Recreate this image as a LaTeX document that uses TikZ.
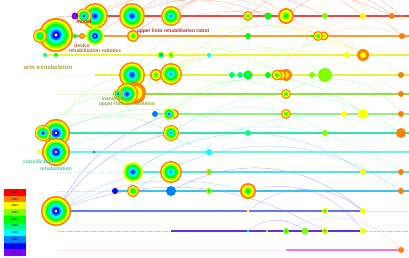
\documentclass[tikz,border=0pt]{standalone}
\usepackage{fontspec}
\setsansfont{Liberation Sans}
\usetikzlibrary{calc,backgrounds}

% year colours (2016 ... 2025)
\definecolor{yr25}{HTML}{FF0000}
\definecolor{ring0}{HTML}{FF8000}
\definecolor{ring1}{HTML}{FFFF00}
\definecolor{ring2}{HTML}{80FF00}
\definecolor{ring3}{HTML}{00FF00}
\definecolor{ring4}{HTML}{00FF80}
\definecolor{ring5}{HTML}{00FFFF}
\definecolor{ring6}{HTML}{0080FF}
\definecolor{ring7}{HTML}{0000FF}
\definecolor{ring8}{HTML}{8000FF}
% timeline colours
\definecolor{ln0}{HTML}{F04848}
\definecolor{ln1}{HTML}{F8A030}
\definecolor{ln2}{HTML}{F0F040}
\definecolor{ln3}{HTML}{E8F040}
\definecolor{ln4}{HTML}{90E040}
\definecolor{ln5}{HTML}{90F080}
\definecolor{ln6}{HTML}{30E8A0}
\definecolor{ln7}{HTML}{70F0F0}
\definecolor{ln8}{HTML}{50E0F0}
\definecolor{ln9}{HTML}{40C0F0}
\definecolor{ln10}{HTML}{6078F0}
\definecolor{ln11}{HTML}{6030D8}
\definecolor{ln12}{HTML}{E080F0}
% label colours
\definecolor{lblred}{HTML}{A83232}
\definecolor{lblbrown}{HTML}{B0642C}
\definecolor{lblolive}{HTML}{B4A038}
\definecolor{lblgreen}{HTML}{8CA83C}
\definecolor{lblteal}{HTML}{4CC0A0}

% ring node: name, position, radius, outer ring, inner ring
\newcommand{\citenode}[5]{%
	\coordinate (#1) at (#2);
	\foreach \k in {#4,...,#5}{%
		\pgfmathsetmacro{\rr}{#3*(#5-\k+1)/(#5-#4+1)}%
		\fill[fill=ring\k] (#1) circle[radius=\rr pt];
	}%
	\ifnum#5=8 \fill[white] (#1) circle[radius={#3*0.1pt}];\fi
}

\begin{document}
\begin{tikzpicture}[x=1pt,y=-1pt]
	\tikzstyle{tline}=[line width=1.3pt];
	\tikzstyle{tdots}=[line width=0.6pt,densely dotted,opacity=0.35];
	\tikzstyle{link}=[line width=0.45pt,opacity=0.3];
	\tikzstyle{lbl}=[font=\sffamily\bfseries\fontsize{5}{5}\selectfont,inner sep=0pt];
	\tikzstyle{yearbox}=[minimum width=22pt,minimum height=6.7pt,inner sep=0pt,
		font=\sffamily\fontsize{3}{3}\selectfont];

	\useasboundingbox (0,0) rectangle (409,257);

	% timelines: y / solid start / solid end / colour
	\foreach \y/\xs/\xe/\col in {16/75/409/ln0, 36/40/409/ln1, 55/45/409/ln2,
		75/95/409/ln3, 94/118/409/ln4, 114/155/409/ln5, 133/43/409/ln6,
		152/56/409/ln7, 172/133/409/ln8, 191/115/409/ln9, 211/56/363/ln10,
		231/171/363/ln11, 250/286/401/ln12}{
		\draw[tdots,draw=\col] (57,\y) -- (409,\y);
		\draw[tline,draw=\col] (\xs,\y) -- (\xe,\y);
	}

	% line 0
	\citenode{c0_3}{95,16}{13}{0}{7}
	\citenode{c0_2}{84,16}{7.5}{0}{7}
	\citenode{c0_1}{75,16}{3.5}{8}{8}
	\citenode{c0_4}{132,16}{13}{0}{7}
	\citenode{c0_5}{171,16}{10}{0}{6}
	\citenode{c0_6}{248,16}{5}{0}{3}
	\citenode{c0_7}{268,16}{3.5}{3}{3}
	\citenode{c0_8}{286,16}{8}{0}{3}
	\citenode{c0_9}{325,16}{3}{2}{2}
	\citenode{c0_10}{363,16}{3}{1}{1}
	\citenode{c0_11}{392,16}{3}{0}{0}
	\citenode{c0_12}{401,16}{1.5}{0}{0}
	% line 1
	\citenode{c1_2}{56,35}{17}{0}{8}
	\citenode{c1_1}{40,36}{7}{0}{5}
	\citenode{c1_3}{75,36}{2}{3}{3}
	\citenode{c1_4}{82,36}{3}{0}{1}
	\citenode{c1_5}{95,36}{9}{1}{8}
	\citenode{c1_6}{133,36}{6}{0}{3}
	\citenode{c1_7}{248,36}{3}{3}{3}
	\citenode{c1_11}{312,36}{1.5}{3}{3}
	\citenode{c1_9}{324,36}{4.5}{0}{2}
	\citenode{c1_8}{318,36}{5}{0}{3}
	\citenode{c1_10}{402,36}{3}{0}{0}
	% line 2
	\citenode{c2_1}{45,55}{2}{4}{4}
	\citenode{c2_2}{56,55}{2}{3}{3}
	\citenode{c2_3}{161,55}{3.5}{1}{7}
	\citenode{c2_4}{171,55}{3.5}{1}{3}
	\citenode{c2_5}{209,55}{2}{5}{5}
	\citenode{c2_6}{347,55}{3}{1}{1}
	\citenode{c2_7}{363,55}{6}{0}{1}
	% line 3
	\citenode{c3_1}{132,75}{13}{0}{7}
	\citenode{c3_2}{156,75}{6}{0}{3}
	\citenode{c3_3}{171,74}{11}{0}{6}
	\citenode{c3_4}{232,75}{3}{4}{4}
	\citenode{c3_5}{240,75}{3}{4}{4}
	\citenode{c3_6}{248,75}{4.5}{3}{4}
	\citenode{c3_7}{268,75}{3}{3}{3}
	\citenode{c3_10}{286,75}{6}{0}{1}
	\citenode{c3_9}{281,75}{5.5}{0}{2}
	\citenode{c3_8}{277,75}{5.5}{0}{3}
	\citenode{c3_11}{312,75}{3}{2}{2}
	\citenode{c3_12}{325,75}{7}{2}{2}
	\citenode{c3_13}{401,75}{3}{0}{0}
	% line 4
	\citenode{c4_1}{135,93}{11}{0}{2}
	\citenode{c4_2}{127,94}{11}{0}{7}
	\citenode{c4_3}{118,94}{5}{0}{7}
	\citenode{c4_4}{286,94}{5}{0}{3}
	\citenode{c4_5}{401,94}{3}{0}{0}
	% line 5
	\citenode{c5_1}{155,114}{3}{6}{6}
	\citenode{c5_2}{174,114}{5}{0}{2}
	\citenode{c5_3}{169,114}{6}{1}{7}
	\citenode{c5_4}{286,114}{5}{0}{3}
	\citenode{c5_5}{344,114}{3}{1}{1}
	\citenode{c5_6}{363,114}{5}{1}{1}
	\citenode{c5_7}{401,114}{3}{0}{0}
	% line 6
	\citenode{c6_1}{56,133}{14}{0}{8}
	\citenode{c6_2}{43,133}{8}{0}{7}
	\citenode{c6_3}{171,133}{8}{0}{6}
	\citenode{c6_4}{248,133}{3}{4}{4}
	\citenode{c6_5}{325,133}{3}{2}{2}
	\citenode{c6_6}{401,133}{5}{0}{0}
	% line 7
	\citenode{c7_1}{39,152}{2}{1}{1}
	\citenode{c7_2}{56,152}{14}{0}{8}
	\citenode{c7_3}{94,152}{1.5}{6}{6}
	\citenode{c7_4}{209,152}{3}{5}{5}
	% line 8
	\citenode{c8_1}{133,172}{10}{1}{7}
	\citenode{c8_2}{171,172}{11}{0}{6}
	\citenode{c8_3}{209,172}{3}{0}{5}
	\citenode{c8_4}{363,172}{3}{1}{1}
	\citenode{c8_5}{401,172}{3}{0}{0}
	% line 9
	\citenode{c9_1}{115,191}{3}{7}{7}
	\citenode{c9_2}{133,191}{6}{0}{4}
	\citenode{c9_3}{171,191}{5}{6}{6}
	\citenode{c9_4}{209,191}{3}{2}{3}
	\citenode{c9_5}{248,191}{8}{0}{3}
	\citenode{c9_6}{401,191}{3}{0}{0}
	% line 10
	\citenode{c10_1}{56,211}{15}{0}{8}
	\citenode{c10_2}{248,211}{1.5}{1}{1}
	\citenode{c10_3}{325,211}{3}{1}{3}
	\citenode{c10_4}{363,211}{3}{1}{1}
	% line 11
	\citenode{c11_1}{248,231}{1.5}{4}{4}
	\citenode{c11_2}{267,231}{1.5}{2}{2}
	\citenode{c11_3}{286,231}{3}{2}{3}
	\citenode{c11_4}{305,231}{3.5}{2}{2}
	\citenode{c11_5}{325,231}{3}{1}{3}
	\citenode{c11_6}{363,231}{3}{1}{1}
	% line 12
	\citenode{c12_1}{401,250}{3}{0}{0}

	% co-citation arcs, behind everything
	\begin{pgfonlayer}{background}
	\draw[link,draw=yr25] (c0_4) to[bend left=40] (c0_8);
	\draw[link,draw=yr25] (c0_5) to[bend left=40] (c0_10);
	\draw[link,draw=yr25] (c0_3) to[bend left=25] (c0_11);
	\draw[link,draw=yr25] (c0_6) to[bend left=45] (c0_12);
	\draw[link,draw=yr25] (c0_8) to[bend left=45] (c0_11);
	\draw[link,draw=yr25] (c1_5) to[bend left=30] (c0_7);
	\draw[link,draw=yr25] (c1_6) to[bend left=35] (c0_9);
	\draw[link,draw=ring0] (c1_2) to[bend left=30] (c0_6);
	\draw[link,draw=ring0] (c0_4) to[bend left=30] (c1_8);
	\draw[link,draw=ring0] (c3_1) to[bend left=35] (c0_8);
	\draw[link,draw=ring0] (c3_3) to[bend left=35] (c1_9);
	\draw[link,draw=ring0] (c1_6) to[bend left=30] (c2_7);
	\draw[link,draw=ring0] (c0_5) to[bend left=40] (c1_10);
	\draw[link,draw=ring0] (c1_8) to[bend left=45] (c1_10);
	\draw[link,draw=ring0] (c3_8) to[bend left=40] (c1_10);
	\draw[link,draw=ring1] (c2_3) to[bend left=30] (c2_7);
	\draw[link,draw=ring1] (c2_4) to[bend left=35] (c2_6);
	\draw[link,draw=ring1] (c3_3) to[bend left=35] (c2_7);
	\draw[link,draw=ring2] (c3_3) to[bend left=40] (c3_12);
	\draw[link,draw=ring2] (c4_2) to[bend left=35] (c3_10);
	\draw[link,draw=ring2] (c4_2) to[bend left=30] (c5_4);
	\draw[link,draw=ring2] (c3_1) to[bend left=40] (c3_8);
	\draw[link,draw=ring2] (c3_6) to[bend left=45] (c3_13);
	\draw[link,draw=ring2] (c4_1) to[bend left=35] (c4_5);
	\draw[link,draw=ring3] (c6_1) to[bend left=30] (c3_1);
	\draw[link,draw=ring3] (c6_1) to[bend left=30] (c6_3);
	\draw[link,draw=ring3] (c5_3) to[bend left=40] (c4_4);
	\draw[link,draw=ring3] (c6_2) to[bend left=25] (c4_2);
	\draw[link,draw=ring3] (c5_3) to[bend left=40] (c5_6);
	\draw[link,draw=ring3] (c4_4) to[bend left=45] (c5_7);
	\draw[link,draw=ring4] (c6_3) to[bend left=35] (c6_5);
	\draw[link,draw=ring4] (c6_1) to[bend left=25] (c6_4);
	\draw[link,draw=ring4] (c6_3) to[bend left=35] (c6_6);
	\draw[link,draw=ring5] (c7_2) to[bend left=30] (c8_1);
	\draw[link,draw=ring5] (c8_2) to[bend left=30] (c6_6);
	\draw[link,draw=ring5] (c7_2) to[bend left=25] (c7_4);
	\draw[link,draw=ring5] (c8_1) to[bend left=35] (c8_5);
	\draw[link,draw=ring6] (c10_1) to[bend left=15] (c8_2);
	\draw[link,draw=ring6] (c10_1) to[bend left=20] (c9_5);
	\draw[link,draw=ring6] (c8_1) to[bend left=35] (c8_4);
	\draw[link,draw=ring6] (c9_2) to[bend left=35] (c9_6);
	\draw[link,draw=ring7] (c10_1) to[bend left=20] (c6_3);
	\draw[link,draw=ring7] (c9_3) to[bend left=35] (c10_4);
	\draw[link,draw=ring7] (c10_1) to[bend left=20] (c5_3);
	\draw[link,draw=ring8] (c9_5) to[bend left=35] (c11_6);
	\draw[link,draw=ring8] (c10_1) to[bend left=25] (c11_5);
	\draw[link,draw=ring8!50] (c11_3) to[bend left=40] (c12_1);
	\draw[link,draw=ring8] (c11_1) to[bend left=40] (c11_4);
	\draw[link,draw=ring8] (c10_2) to[bend left=40] (c10_4);
	\end{pgfonlayer}

	% cluster labels
	\node[lbl,text=lblred] (t_model) at (84,22) {model};
	\node[lbl,text=lblred] (t_robot) at (173,31) {upper limb rehabilitation robot};
	\node[lbl,text=lblbrown] (t_device) at (82,46) {device};
	\node[lbl,text=lblbrown] (t_robotics) at (95,51) {rehabilitation robotics};
	\node[lbl,text=lblolive,font=\sffamily\bfseries\fontsize{6.2}{6}\selectfont] (t_arm) at (48,67) {arm exoskeleton};
	\node[lbl,text=lblgreen] (t_manip) at (116,99) {manipulator};
	\node[lbl,text=lblgreen] (t_upper) at (127,104) {upper-limb exoskeleton};
	\node[lbl,text=lblteal] (t_class) at (39,162) {classification};
	\node[lbl,text=lblteal] (t_rehab) at (56,169) {rehabilitation};

	% year legend
	\foreach \i/\yr/\col in {0/2025/yr25, 1/2024/ring0, 2/2023/ring1, 3/2022/ring2,
		4/2021/ring3, 5/2020/ring4, 6/2019/ring5, 7/2018/ring6, 8/2017/ring7, 9/2016/ring8}{
		\node[yearbox,fill=\col] (yr_\i) at (15,192.4+6.7*\i) {\yr};
	}
\end{tikzpicture}
\end{document}
